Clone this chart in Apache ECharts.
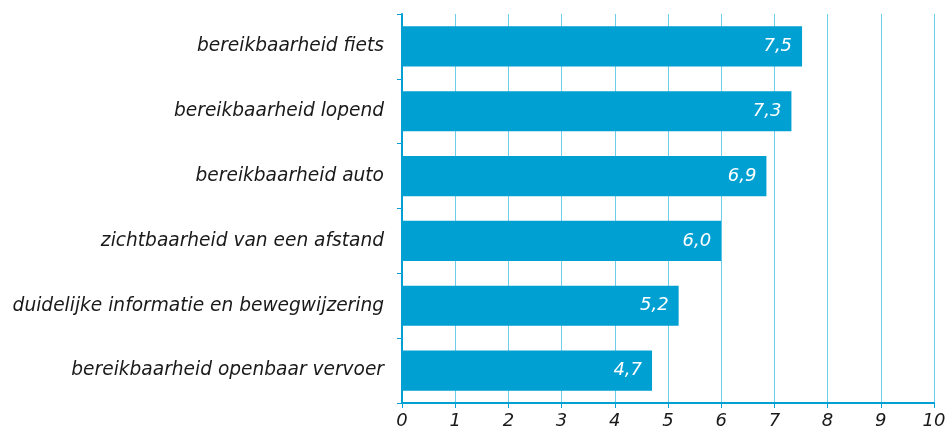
<!DOCTYPE html>
<html><head><meta charset="utf-8">
<script src="https://cdn.jsdelivr.net/npm/echarts@6/dist/echarts.min.js"></script>
<style>html,body{margin:0;padding:0;background:#fff}#c{width:949px;height:435px}</style>
</head><body><div id="c"></div>
<script>
const categories = ["bereikbaarheid openbaar vervoer","duidelijke informatie en bewegwijzering","zichtbaarheid van een afstand","bereikbaarheid auto","bereikbaarheid lopend","bereikbaarheid fiets"];
const values = [4.7, 5.2, 6.0, 6.85, 7.32, 7.52];
const labels = ["4,7","5,2","6,0","6,9","7,3","7,5"];
const ticks = [0,1,2,3,4,5,6,7,8,9,10];
const chart = echarts.init(document.getElementById('c'), null, {renderer:'canvas'});
chart.setOption({
  animation:false,
  grid:{left:402, right:15, top:14, bottom:32, containLabel:false},
  xAxis:{type:'value', min:0, max:10, interval:1,
    axisLine:{show:true, lineStyle:{color:'#009FD4', width:2}},
    axisTick:{show:true, length:5, lineStyle:{color:'#009FD4', width:1}},
    splitLine:{show:true, lineStyle:{color:'#6ECDEB', width:1}},
    axisLabel:{margin:9, fontFamily:'DejaVu Sans', fontStyle:'italic', fontSize:18, color:'#1a1a1a', formatter:v=>String(ticks[v])}
  },
  yAxis:{type:'category', data:categories,
    axisLine:{show:true, lineStyle:{color:'#009FD4', width:2}},
    axisTick:{show:true, length:5, lineStyle:{color:'#009FD4', width:1}},
    axisLabel:{margin:18, fontFamily:'DejaVu Sans', fontStyle:'italic', fontSize:18.6, color:'#1a1a1a'}
  },
  series:[{type:'bar', data:values, barCategoryGap:'38%',
    itemStyle:{color:'#00A0D2'},
    label:{show:true, position:'insideRight', distance:10, color:'#fff', fontFamily:'DejaVu Sans', fontStyle:'italic', fontSize:18,
      formatter:p=>labels[p.dataIndex]}
  }]
});
</script></body></html>
